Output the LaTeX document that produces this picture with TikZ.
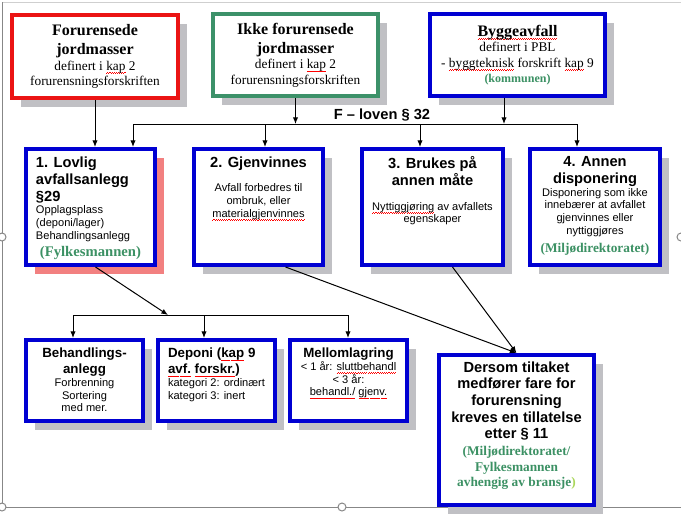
\documentclass[tikz,border=0pt]{standalone}
\usepackage{fontspec}
\setmainfont{Liberation Serif}
\setsansfont{Liberation Sans}
\usepackage{xcolor}
\usetikzlibrary{arrows.meta, shadows, calc}
\definecolor{boxblue}{RGB}{0,0,210}
\definecolor{boxred}{RGB}{235,20,20}
\definecolor{boxgreen}{RGB}{60,145,105}
\definecolor{orggreen}{RGB}{60,145,100}
\definecolor{limegreen}{RGB}{170,215,90}
\definecolor{shadegray}{RGB}{192,192,196}
\definecolor{shadepink}{RGB}{242,128,128}
\definecolor{framegray}{RGB}{135,135,135}
\newdimen\px \px=0.75pt
\newsavebox{\spellbox}
\newcommand{\spell}[1]{\leavevmode\sbox{\spellbox}{#1}\rlap{\hbox to\wd\spellbox{\color{red}\xleaders\hbox to 1.6pt{\rule[-2.4pt]{0.8pt}{0.45pt}\rule[-1.9pt]{0.8pt}{0.45pt}}\hfil}}\usebox{\spellbox}}
\newcommand{\boxtxt}[4]{\parbox[c][#2\px][#3]{#1\px}{#4}}
\newcommand{\topttl}{\rmfamily\bfseries\fontsize{12}{14.25}\selectfont}
\newcommand{\topsub}{\rmfamily\mdseries\fontsize{10}{11.5}\selectfont}
\newcommand{\boxttl}{\sffamily\bfseries\fontsize{11}{12.75}\selectfont}
\newcommand{\lowttl}{\sffamily\bfseries\fontsize{10}{12}\selectfont}
\newcommand{\boxbody}{\sffamily\mdseries\fontsize{8.3}{9.5}\selectfont}
\newcommand{\orgname}{\rmfamily\bfseries\color{orggreen}}
\tikzstyle{wire} = [line width=0.75pt]
\tikzstyle{arrow} = [wire, -{Latex[length=5pt,width=4pt]}]
\tikzset{stepbox/.style={rectangle, draw=boxblue, line width=3pt, fill=white, inner sep=0pt, anchor=north west,
  drop shadow={shadow xshift=6.75pt, shadow yshift=-6.75pt, fill=#1, opacity=1}},
  stepbox/.default=shadegray}

\begin{document}
\begin{tikzpicture}[x=0.75pt, y=-0.75pt]
\useasboundingbox (0,0) rectangle (681,525);

% Canvas frame
\draw[framegray!40, line width=0.75pt] (2,2) -- (681,2);
\draw[framegray, line width=0.75pt] (2,2) -- (2,507) -- (681,507);

% Waste categories
\node[stepbox, draw=boxred] (forjord) at (10,13) {\boxtxt{166}{83}{c}{\centering\topttl Forurensede\\jordmasser\par\topsub definert i \spell{kap} 2\\forurensningsforskriften\par}};
\node[stepbox, draw=boxgreen] (ikkejord) at (211,12) {\boxtxt{165}{82}{c}{\centering\topttl Ikke forurensede\\jordmasser\par\topsub definert i \spell{kap} 2\\forurensningsforskriften\par}};
\node[stepbox] (bygg) at (428,12) {\boxtxt{175}{82}{c}{\centering\topttl \spell{Byggeavfall}\par\topsub definert i PBL\\- \spell{byggteknisk} forskrift \spell{kap} 9\par{\orgname\fontsize{9}{11.5}\selectfont (kommunen)\par}}};

\node[font=\sffamily\bfseries\fontsize{11}{13}\selectfont] (floven) at (382,115) {F – loven § 32};

% Disposal options
\node[stepbox=shadepink] (lovlig) at (24,147) {\boxtxt{129}{116}{t}{\raggedright\leftskip=10\px\vspace*{7.5\px}\boxttl 1. Lovlig\\avfallsanlegg\\§29\par\boxbody Opplagsplass\\(deponi/lager)\\Behandlingsanlegg\par\centering\orgname\fontsize{11}{12.75}\selectfont (Fylkesmannen)\par}};
\node[stepbox] (gjenv) at (192,147) {\boxtxt{129}{116}{t}{\centering\vspace*{7.5\px}\boxttl 2. Gjenvinnes\par\vspace{12\px}\boxbody Avfall forbedres til\\ombruk, eller\\\spell{materialgjenvinnes}\par}};
\node[stepbox] (brukes) at (360,147) {\boxtxt{141}{116}{t}{\centering\vspace*{7.5\px}\boxttl 3. Brukes på\\annen måte\par\vspace{12\px}\boxbody \spell{Nyttiggjøring} av avfallets\\egenskaper\par}};
\node[stepbox] (annen) at (528,147) {\boxtxt{130}{116}{t}{\centering\vspace*{7.5\px}\boxttl 4. Annen\\disponering\par\boxbody Disponering som ikke\\innebærer at avfallet\\gjenvinnes eller\\nyttiggjøres\par\orgname\fontsize{10}{13.5}\selectfont (Miljødirektoratet)\par}};

% Facility types
\node[stepbox] (beh) at (24,338) {\boxtxt{117}{81}{t}{\centering\vspace*{8\px}\lowttl Behandlings-\\anlegg\par\boxbody Forbrenning\\Sortering\\med mer.\par}};
\node[stepbox] (dep) at (156,338) {\boxtxt{117}{81}{t}{\raggedright\leftskip=10\px\vspace*{8\px}\lowttl Deponi (\spell{kap} 9\\\spell{avf.} \spell{forskr.})\par\boxbody kategori 2: ordinært\\kategori 3: inert\par}};
\node[stepbox] (mell) at (288,338) {\boxtxt{117}{81}{t}{\centering\vspace*{8\px}\lowttl Mellomlagring\par\boxbody < 1 år: \spell{sluttbehandl}\\< 3 år:\\\spell{behandl./} \spell{gjenv.}\par}};

\node[stepbox] (dersom) at (437,353) {\boxtxt{155}{150}{t}{\centering\vspace*{6.5\px}\boxttl\fontsize{11}{12.5}\selectfont Dersom tiltaket\\medfører fare for\\forurensning\\kreves en tillatelse\\etter § 11\par\vspace{1.5\px}\orgname\fontsize{10}{11.6}\selectfont (Miljødirektoratet/\\Fylkesmannen\\avhengig av bransje{\color{limegreen})}\par}};

% Arrows to disposal options
\coordinate (b1) at (133,124);
\coordinate (b2) at (265,124);
\coordinate (b3) at (420,124);
\coordinate (b4) at (577,124);
\coordinate (cdrop) at (504,124);
\draw[wire] (b1) -- (b4);
\draw[arrow] (ikkejord.south) -- (ikkejord.south |- b1);
\draw[arrow] (cdrop |- bygg.south) -- (cdrop);
\draw[arrow] (forjord.south) -- (forjord.south |- lovlig.north);
\draw[arrow] (b1) -- (b1 |- lovlig.north);
\draw[arrow] (b2) -- (b2 |- gjenv.north);
\draw[arrow] (b3) -- (b3 |- brukes.north);
\draw[arrow] (b4) -- (b4 |- annen.north);

% Arrows to facility types
\coordinate (d0) at (168,315);
\coordinate (d1) at (73,315);
\coordinate (d2) at (204,315);
\coordinate (d3) at (348,315);
\draw[wire] (d1) -- (d3);
\draw[arrow] ($(lovlig.south)+(5,0)$) -- (d0);
\draw[arrow] (d1) -- (d1 |- beh.north);
\draw[arrow] (d2) -- (d2 |- dep.north);
\draw[arrow] (d3) -- (d3 |- mell.north);

% Arrows to permit box
\draw[arrow] ($(gjenv.south)+(27,0)$) -- (dersom.north);
\draw[arrow] ($(brukes.south)+(20,0)$) -- (dersom.north);

% Frame handles
\foreach \p in {(2,237),(2,507),(342,507),(681,237)}
  \draw[framegray, fill=white, line width=0.75pt] \p circle[radius=3pt];

\end{tikzpicture}
\end{document}
